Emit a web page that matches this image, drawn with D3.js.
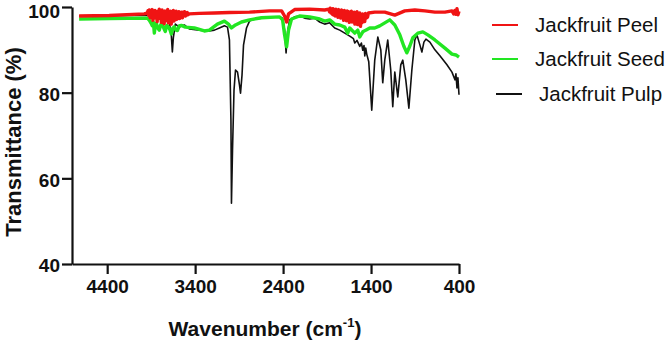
<!DOCTYPE html>
<html>
<head>
<meta charset="utf-8">
<script src="https://cdn.jsdelivr.net/npm/d3@7"></script>
<style>
  body { margin: 0; background: #fff; }
  svg { display: block; font-family: "Liberation Sans", Arial, sans-serif; }
</style>
</head>
<body>
<svg id="chart" width="669" height="342"></svg>
<script>
// FTIR spectra: [wavenumber cm-1, transmittance %]
const pulp = [
  [4719, 97.9], [4491, 97.9], [4149, 98.0], [3921, 98.1], [3830, 97.7], [3773, 97.0],
  [3728, 97.4], [3693, 96.3], [3671, 93.5], [3659, 89.5], [3648, 92.8], [3625, 96.0],
  [3579, 95.3], [3523, 95.8], [3466, 94.9], [3352, 94.6], [3238, 94.4], [3181, 94.6],
  [3124, 95.1], [3067, 95.6], [3032, 95.3], [3010, 92.3], [2993, 73.6], [2987, 54.2],
  [2975, 66.6], [2958, 80.6], [2941, 85.3], [2918, 84.8], [2896, 81.8], [2884, 79.9],
  [2867, 84.1], [2850, 91.1], [2816, 95.1], [2782, 96.7], [2725, 97.2], [2645, 97.4],
  [2554, 97.7], [2440, 97.7], [2406, 97.4], [2383, 94.6], [2366, 89.3], [2349, 94.2],
  [2326, 97.0], [2269, 97.7], [2212, 97.9], [2155, 97.4], [2098, 97.2], [2041, 97.4],
  [1984, 96.5], [1927, 96.0], [1870, 96.3], [1813, 95.1], [1756, 94.6], [1699, 93.9],
  [1642, 93.2], [1600, 92.6], [1585, 91.6], [1560, 92.2], [1528, 90.8], [1510, 91.6],
  [1494, 89.9], [1480, 91.0], [1471, 88.6], [1460, 90.4], [1449, 89.0],
  [1426, 87.2], [1392, 75.9], [1358, 87.6], [1323, 93.0], [1289, 90.0], [1267, 82.3],
  [1244, 87.6], [1210, 92.3], [1176, 85.3], [1153, 76.7], [1130, 84.8], [1096, 79.0],
  [1062, 86.5], [1039, 87.6], [1005, 83.0], [970, 76.4], [936, 85.3], [902, 92.3],
  [879, 93.5], [844, 91.1], [822, 89.5], [799, 91.8], [776, 92.5], [731, 91.8],
  [674, 90.0], [617, 88.6], [537, 86.5], [480, 84.8], [446, 83.0], [435, 84.4],
  [423, 81.1], [412, 83.5], [400, 79.5]
];

const seed = [
  [4719, 97.2], [4377, 97.3], [3944, 97.4], [3920, 96.9], [3900, 96.2], [3887, 95.6],
  [3874, 96.4], [3864, 93.9], [3852, 95.8], [3841, 96.2], [3825, 95.1], [3807, 94.6],
  [3790, 95.9], [3773, 96.1], [3755, 95.0], [3739, 94.3], [3722, 95.7], [3705, 95.4],
  [3688, 94.8], [3671, 93.7], [3655, 95.0], [3636, 95.4], [3618, 94.6], [3602, 94.5],
  [3580, 95.6], [3557, 95.7], [3511, 95.3], [3409, 95.1], [3295, 94.4], [3238, 94.6],
  [3147, 96.0], [3067, 96.7], [3021, 96.0], [2987, 95.1], [2941, 95.8], [2873, 96.5],
  [2782, 97.0], [2645, 97.5], [2440, 97.7], [2406, 97.0], [2383, 93.5], [2360, 90.7],
  [2338, 94.6], [2304, 97.2], [2212, 97.9], [2098, 97.7], [1984, 97.2], [1927, 96.7],
  [1870, 97.0], [1813, 96.0], [1756, 95.8], [1699, 95.3], [1665, 93.9], [1642, 95.1],
  [1585, 93.9], [1551, 94.6], [1528, 93.0], [1494, 94.2], [1460, 94.6], [1415, 95.1],
  [1358, 95.1], [1301, 95.6], [1244, 96.3], [1187, 97.0], [1130, 95.8], [1073, 93.5],
  [1028, 90.9], [993, 89.3], [959, 90.9], [925, 92.8], [868, 93.9], [811, 94.2],
  [754, 93.5], [674, 92.3], [560, 90.4], [480, 89.0], [435, 88.8], [400, 88.3]
];

const peel = [
  [4719, 97.9], [4377, 98.0], [3978, 98.4],
  [3944, 98.6], [3936, 99.1], [3928, 98.0], [3920, 99.3], [3912, 97.5], [3904, 98.8],
  [3896, 97.9], [3888, 99.4], [3880, 96.9], [3872, 98.7], [3864, 97.4], [3856, 99.2],
  [3848, 97.8], [3840, 98.9], [3832, 96.6], [3824, 99.0], [3816, 97.3], [3808, 99.5],
  [3800, 97.9], [3792, 98.4], [3784, 96.4], [3776, 99.3], [3768, 97.0], [3760, 98.6],
  [3752, 96.1], [3744, 99.1], [3736, 97.7], [3728, 98.8], [3720, 96.8], [3712, 99.4],
  [3704, 96.3], [3696, 98.5], [3688, 97.2], [3680, 99.0], [3672, 96.0], [3664, 98.3],
  [3656, 97.5], [3648, 99.2], [3640, 96.7], [3632, 98.6], [3624, 97.6], [3616, 99.0],
  [3608, 97.1], [3600, 98.5], [3592, 97.8], [3584, 98.9], [3576, 97.3], [3568, 98.6],
  [3560, 97.9], [3552, 98.8], [3544, 97.5], [3536, 98.7], [3528, 98.0], [3520, 98.9],
  [3512, 97.9], [3504, 98.6], [3496, 98.1], [3488, 98.7], [3480, 98.2], [3470, 98.4],
  [3352, 98.5], [3181, 98.6], [3010, 98.7], [2782, 98.8], [2554, 99.1], [2417, 99.1],
  [2383, 97.9], [2360, 96.5], [2338, 98.4], [2269, 99.4], [2098, 99.5], [1927, 99.3],
  [1880, 99.5], [1872, 98.9], [1864, 99.7], [1856, 98.6], [1848, 99.4], [1840, 98.3],
  [1832, 99.6], [1824, 98.1], [1816, 99.2], [1808, 97.9], [1800, 99.5], [1792, 98.4],
  [1784, 99.0], [1776, 97.6], [1768, 99.4], [1760, 98.2], [1752, 99.1], [1744, 97.4],
  [1736, 99.3], [1728, 97.9], [1720, 98.8], [1712, 96.9], [1704, 99.2], [1696, 97.5],
  [1688, 98.7], [1680, 96.8], [1672, 99.1], [1664, 97.2], [1656, 98.9], [1648, 96.4],
  [1640, 98.6], [1632, 97.6], [1624, 99.0], [1616, 96.5], [1608, 98.4], [1600, 96.9],
  [1592, 98.8], [1584, 96.0], [1576, 98.3], [1568, 97.3], [1560, 98.9], [1552, 95.9],
  [1544, 98.1], [1536, 96.8], [1528, 98.6], [1520, 95.5], [1512, 97.9], [1504, 96.3],
  [1496, 98.4], [1488, 96.9], [1480, 98.2], [1472, 96.6], [1464, 98.5], [1456, 97.4],
  [1448, 98.3], [1440, 97.6], [1430, 98.6],
  [1358, 98.8], [1244, 98.8], [1130, 98.1],
  [1016, 99.1], [902, 99.3], [788, 99.1], [674, 98.8], [560, 98.8], [480, 99.1],
  [460, 98.4], [446, 99.2], [435, 98.3], [423, 99.6], [412, 98.2], [400, 99.0]
];

const xTicks = [4400, 3400, 2400, 1400, 400];
const yTicks = [40, 60, 80, 100];

const legendItems = [
  { label: "Jackfruit Peel", color: "#f01414" },
  { label: "Jackfruit Seed", color: "#22e622" },
  { label: "Jackfruit Pulp", color: "#111111" }
];

const svg = d3.select("#chart");

const x = d3.scaleLinear().domain([4800, 400]).range([72, 459]);
const y = d3.scaleLinear().domain([40, 100]).range([264, 7]);

// x axis
const xAxis = svg.append("g")
  .attr("transform", "translate(0,264)")
  .call(d3.axisBottom(x).tickValues(xTicks).tickFormat(d3.format("d"))
    .tickSize(10).tickSizeOuter(0).tickPadding(6));
xAxis.selectAll("text")
  .attr("font-size", "19px")
  .attr("font-weight", "bold")
  .attr("fill", "#111");

// y axis
const yAxis = svg.append("g")
  .attr("transform", "translate(72,0)")
  .call(d3.axisLeft(y).tickValues(yTicks).tickFormat(d3.format("d"))
    .tickSize(10).tickSizeOuter(0).tickPadding(2));
yAxis.selectAll("text")
  .attr("font-size", "19px")
  .attr("font-weight", "bold")
  .attr("dy", d => d === 100 ? "0.56em" : "0.42em")  // top label kept inside the frame
  .attr("fill", "#111");

svg.selectAll(".domain, .tick line")
  .attr("stroke", "#111")
  .attr("stroke-width", 2.2);

// spectra
const line = d3.line()
  .x(d => x(d[0]))
  .y(d => y(d[1]));

const series = [
  { data: pulp, color: legendItems[2].color, w: 1.6 },
  { data: seed, color: legendItems[1].color, w: 3.4 },
  { data: peel, color: legendItems[0].color, w: 3.4 }
];

series.forEach(s => {
  svg.append("path")
    .datum(s.data)
    .attr("d", line)
    .attr("fill", "none")
    .attr("stroke", s.color)
    .attr("stroke-width", s.w)
    .attr("stroke-linejoin", "round");
});

// axis titles
svg.append("text")
  .attr("transform", "translate(21,142) rotate(-90)")
  .attr("text-anchor", "middle")
  .attr("font-size", "22px")
  .attr("font-weight", "bold")
  .attr("fill", "#111")
  .text("Transmittance (%)");

const xTitle = svg.append("text")
  .attr("x", 265)
  .attr("y", 336)
  .attr("text-anchor", "middle")
  .attr("font-size", "21px")
  .attr("font-weight", "bold")
  .attr("fill", "#111");
xTitle.append("tspan").text("Wavenumber (cm");
xTitle.append("tspan").attr("font-size", "13px").attr("dy", -9).text("-1");
xTitle.append("tspan").attr("dy", 9).text(")");

// legend
const legendY = [25, 59, 94];
const legendX = [492, 492, 496];
const legendTextX = [535, 535, 539];

legendItems.forEach((item, i) => {
  svg.append("line")
    .attr("x1", legendX[i])
    .attr("x2", legendX[i] + 26)
    .attr("y1", legendY[i])
    .attr("y2", legendY[i])
    .attr("stroke", item.color)
    .attr("stroke-width", 2);

  svg.append("text")
    .attr("x", legendTextX[i])
    .attr("y", legendY[i] + 7)
    .attr("font-size", "20.5px")
    .attr("fill", "#111")
    .text(item.label);
});
</script>
</body>
</html>
